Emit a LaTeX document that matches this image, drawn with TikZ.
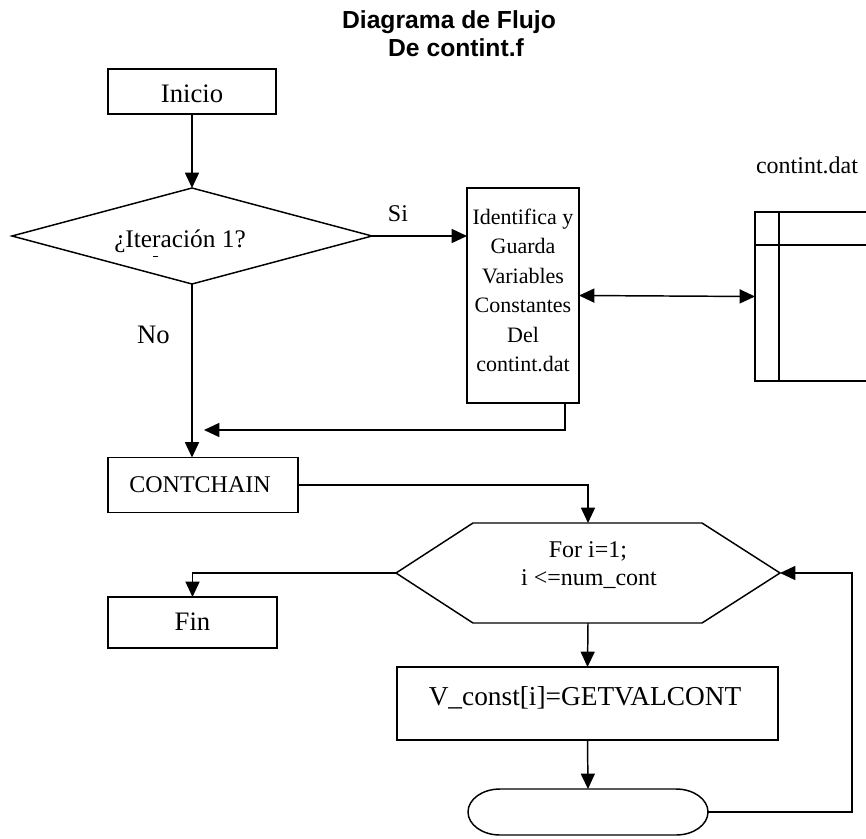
\documentclass[tikz,border=0pt]{standalone}
\usepackage{fontspec}
\setmainfont{Liberation Serif}
\newfontfamily\titlefont{Liberation Sans}
\usetikzlibrary{arrows.meta}

\begin{document}
\begin{tikzpicture}[x=0.75pt,y=-0.75pt,line width=1.1pt,
  every node/.style={inner sep=0pt,outer sep=0pt,font=\fontsize{18}{21.5}\selectfont},
  box/.style={draw,rectangle},
  lbl/.style={anchor=base},
  big/.style={font=\fontsize{20}{24}\selectfont},
  small/.style={font=\fontsize{16.5}{20}\selectfont},
  ttl/.style={anchor=base,font=\titlefont\bfseries\fontsize{18.5}{21}\selectfont},
  flow/.style={-{Triangle[length=11.5pt,width=10.5pt]}},
  twoway/.style={{Triangle[length=11.5pt,width=10.5pt]}-{Triangle[length=11.5pt,width=10.5pt]}},
]
\useasboundingbox (0,0) rectangle (866,838);

% title
\node[ttl] (title1) at (449,29) {Diagrama de Flujo};
\node[ttl] (title2) at (456,57) {De contint.f};

% start box
\node[box,minimum width=126pt,minimum height=33.75pt] (inicio) at (192,91.5) {};
\node[lbl,big] (inicioT) at (192,103) {Inicio};

% decision diamond
\coordinate (dT) at (192,188);
\coordinate (dR) at (372,236);
\coordinate (dB) at (192,284);
\coordinate (dL) at (12,236);
\draw (dT) -- (dR) -- (dB) -- (dL) -- cycle;
\node[lbl,font=\fontsize{19}{22}\selectfont] (iterT) at (180,247) {¿Iteración 1?};
\draw[line width=0.6pt] (153,256) -- (158,256);
\node[lbl] (si) at (398,221) {Si};
\node[lbl,big,anchor=base west] (no) at (137,343) {No};

% read constants
\node[box,minimum width=84pt,minimum height=161.25pt] (ident) at (523,295.5) {};
\node[lbl,small] (idT1) at (523,224) {Identifica y};
\node[lbl,small] (idT2) at (523,253.5) {Guarda};
\node[lbl,small] (idT3) at (523,283) {Variables};
\node[lbl,small] (idT4) at (523,312.5) {Constantes};
\node[lbl,small] (idT5) at (523,342) {Del};
\node[lbl,small] (idT6) at (523,371.5) {contint.dat};

% data file
\node[lbl,anchor=base west] (fileT) at (756,173) {contint.dat};
\coordinate (storeL) at (755,296.5);
\draw (866,212) -- (755,212) -- (755,381) -- (866,381);
\draw (779,212) -- (779,381);
\draw (755,245) -- (866,245);

% chain box
\node[box,minimum width=142.5pt,minimum height=41.25pt] (contchain) at (203,485) {};
\node[lbl] (ccT) at (200,492) {CONTCHAIN};

% loop header hexagon
\coordinate (hL) at (396,573);
\coordinate (hTL) at (473,523);
\coordinate (hTR) at (702,523);
\coordinate (hR) at (780,573);
\coordinate (hBR) at (702,623);
\coordinate (hBL) at (473,623);
\coordinate (hT) at (588,523);
\coordinate (hB) at (588,623);
\draw (hL) -- (hTL) -- (hTR) -- (hR) -- (hBR) -- (hBL) -- cycle;
\node[lbl] (forT1) at (588,557) {For i=1;};
\node[lbl] (forT2) at (589,585) {i <=num\_cont};

% end box
\node[box,minimum width=126.75pt,minimum height=38.25pt] (fin) at (192.5,622.5) {};
\node[lbl,big] (finT) at (192.5,630) {Fin};

% body box
\node[box,minimum width=285.75pt,minimum height=54.75pt] (vconst) at (587.5,703.5) {};
\node[lbl,font=\fontsize{20.5}{24}\selectfont] (vcT) at (585,705) {V\_const[i]=GETVALCONT};

% loop end terminator
\node[minimum width=180pt,minimum height=34.5pt] (term) at (588,812) {};
\draw (500,789) -- (676,789)
  arc[start angle=-90,end angle=90,x radius=32,y radius=23]
  -- (500,835)
  arc[start angle=90,end angle=270,x radius=32,y radius=23] -- cycle;

% connectors
\draw[flow] (inicio.south) -- (dT);
\draw[flow] (dR) -- (dR -| ident.west);
\draw[twoway] (ident.east) -- (storeL);
\coordinate (identOut) at (565,403);
\coordinate (joinTip) at (204,430);
\draw[flow] (identOut) |- (joinTip);
\draw[flow] (dB) -- (dB |- contchain.north);
\draw[flow] (contchain.east) -| (hT);
\draw[flow] (hL) -| (fin.north);
\draw[flow] (hB) -- (vconst.north);
\draw[flow] (vconst.south) -- (term.north);
\draw[flow] (term.east) -- ++(144,0) |- (hR);
\end{tikzpicture}
\end{document}
